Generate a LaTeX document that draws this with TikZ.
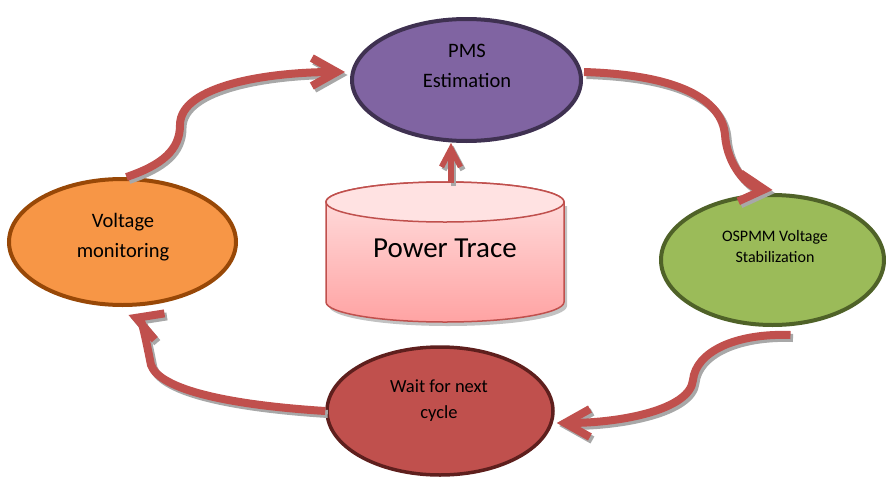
\documentclass[tikz,border=0pt]{standalone}
\usepackage{fontspec}
\setmainfont{Carlito}
\usetikzlibrary{arrows.meta,shapes.geometric,calc}

\definecolor{flowred}{HTML}{C0504D}
\definecolor{shadowgray}{HTML}{A8A8A8}
\definecolor{pmsfill}{HTML}{8064A2}
\definecolor{pmsline}{HTML}{3F3151}
\definecolor{volfill}{HTML}{F79646}
\definecolor{volline}{HTML}{984807}
\definecolor{ospfill}{HTML}{9BBB59}
\definecolor{ospline}{HTML}{4F6228}
\definecolor{waitfill}{HTML}{C0504D}
\definecolor{waitline}{HTML}{5E1F1D}
\definecolor{cyltop}{HTML}{FFE2E2}
\definecolor{cylbot}{HTML}{FFA3A3}

% the four curved links of the cycle, drawn with the style given as #1
\newcommand\cyclelinks[1]{%
  \draw[#1] ($(vol.north)+(4,0)$) .. controls (162,165) and (180,150) .. (180,125)
        .. controls (180,85) and (270,72) .. ($(pms.west)+(-5,-8)$);
  \draw[#1] ($(pms.east)+(1,-8)$) .. controls (680,75) and (722,100) .. (725,135)
        .. controls (727,165) and (748,188) .. ($(osp.north)+(0,-3)$);
  \draw[#1] ($(osp.south)+(18,8)$) .. controls (735,333) and (696,352) .. (693,380)
        .. controls (690,410) and (620,423) .. ($(wait.east)+(2,12)$);
  \draw[#1] (wait.west) .. controls (230,405) and (160,390) .. (151,365)
        .. controls (147,345) and (142,320) .. ($(vol.south)+(6,8)$);
  \draw[#1, line width=5.5pt, -{Straight Barb[length=18pt,width=19pt]}]
        (traceTop) -- (traceTop |- pms.south);
}

\begin{document}
\begin{tikzpicture}[x=1pt,y=-1pt,
  stage/.style={ellipse, draw, line width=4pt, inner sep=0pt},
  lbl/.style={align=center, text=black, inner sep=0pt},
  flow/.style={draw=flowred, line width=8pt, -{Straight Barb[length=25pt,width=28pt]}},
  flowshadow/.style={flow, draw=shadowgray, transform canvas={shift={(2.5,3)}}},
]
\useasboundingbox (0,0) rectangle (886,482);

% process stages
\node[stage, fill=pmsfill, draw=pmsline, minimum width=229pt, minimum height=122pt] (pms) at (466.5,80) {};
\node[stage, fill=volfill, draw=volline, minimum width=227pt, minimum height=126pt] (vol) at (122.5,242) {};
\node[stage, fill=ospfill, draw=ospline, minimum width=223pt, minimum height=130pt] (osp) at (772.5,260) {};
\node[stage, fill=waitfill, draw=waitline, line width=3.5pt, minimum width=226pt, minimum height=128pt] (wait) at (440,411) {};

% data store: shadow, body and top face of the cylinder
\fill[shadowgray!70] (329,206) -- (329,306) arc[start angle=180,end angle=0,x radius=119,y radius=20]
      -- (567,206) -- cycle;
\draw[flowred, line width=1.5pt, top color=cyltop, bottom color=cylbot]
      (326,202) -- (326,302) arc[start angle=180,end angle=0,x radius=119,y radius=20]
      -- (564,202) arc[start angle=0,end angle=-180,x radius=119,y radius=20] -- cycle;
\draw[flowred, line width=1.5pt, fill=cyltop] (445,202) ellipse[x radius=119, y radius=20];
\node[lbl, anchor=base, font=\fontsize{29}{35}\selectfont] (trace) at (445,257) {Power Trace};
\coordinate (traceTop) at (451,183);

% links: shadows first, then the red strokes
\cyclelinks{flowshadow}
\cyclelinks{flow}

% stage labels (anchored at the baseline of their last line)
\node[lbl, anchor=base, font=\fontsize{20.5}{30}\selectfont] (pmsT) at (467,87) {PMS\\Estimation};
\node[lbl, anchor=base, font=\fontsize{20.5}{30}\selectfont] (volT) at (123,257) {Voltage\\monitoring};
\node[lbl, anchor=base, font=\fontsize{16}{21}\selectfont] (ospT) at (775,262) {OSPMM Voltage\\Stabilization};
\node[lbl, anchor=base, font=\fontsize{18.5}{26}\selectfont] (waitT) at (439,418) {Wait for next\\cycle};
\end{tikzpicture}
\end{document}
